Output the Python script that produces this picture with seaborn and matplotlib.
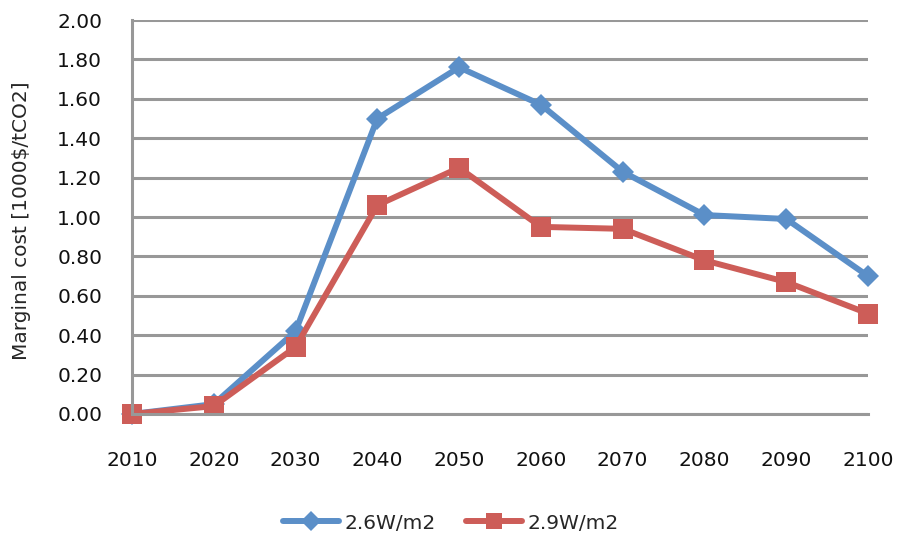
import seaborn as sns
import matplotlib.pyplot as plt
import pandas as pd

years = [2010, 2020, 2030, 2040, 2050, 2060, 2070, 2080, 2090, 2100]
cost_26 = [0.00, 0.05, 0.42, 1.50, 1.76, 1.57, 1.23, 1.01, 0.99, 0.70]
cost_29 = [0.00, 0.04, 0.34, 1.06, 1.25, 0.95, 0.94, 0.78, 0.67, 0.51]
series_names = ["2.6W/m2", "2.9W/m2"]
y_ticks = [0.0, 0.2, 0.4, 0.6, 0.8, 1.0, 1.2, 1.4, 1.6, 1.8, 2.0]

df = pd.DataFrame({
    "year": years * 2,
    "cost": cost_26 + cost_29,
    "scenario": [series_names[0]] * len(years) + [series_names[1]] * len(years),
})

sns.set_style("white")
plt.rcParams['font.family'] = ['DejaVu Sans']

fig = plt.figure(figsize=(9.01, 5.42), dpi=100)
ax = fig.add_axes([0.1465, 0.2362, 0.8169, 0.7268])

grid_col = "#989898"
palette = {series_names[0]: "#5B8FC8", series_names[1]: "#CD5D58"}
markers = {series_names[0]: "D", series_names[1]: "s"}

sns.lineplot(data=df, x="year", y="cost", hue="scenario", style="scenario",
             palette=palette, markers=markers, dashes=False, linewidth=4.3,
             markersize=14, markeredgewidth=0, ax=ax, legend=True)

# diamonds a bit smaller than squares, and let markers spill over the edges
for line in ax.lines:
    line.set_clip_on(False)
    if line.get_marker() == "D":
        line.set_markersize(11.2)

ax.set_xlim(2010, 2100)
ax.set_ylim(0, 2.0)
ax.set_xticks(years)
ax.set_yticks(y_ticks)
ax.set_yticklabels([f"{v:.2f}" for v in y_ticks])
ax.yaxis.grid(True, color=grid_col, linewidth=2.2)
ax.set_axisbelow(True)

for side in ["top", "right"]:
    ax.spines[side].set_visible(False)
for side in ["left", "bottom"]:
    ax.spines[side].set_color(grid_col)
    ax.spines[side].set_linewidth(2.2)

ax.tick_params(axis="both", direction="out", length=6.5, width=2.2, color=grid_col,
               labelsize=14.5, labelcolor="#111111")
ax.tick_params(axis="x", pad=20)
ax.tick_params(axis="y", pad=15)

ax.set_xlabel("")
ax.set_ylabel("Marginal cost [1000$/tCO2]", fontsize=14.5)
ax.yaxis.set_label_coords(-0.137, 0.49)

handles, labels = ax.get_legend_handles_labels()
leg = ax.legend(handles, labels, loc="center", bbox_to_anchor=(0.5, 0.035),
                bbox_transform=fig.transFigure, ncol=2, frameon=False,
                fontsize=14.5, handlelength=2.8, columnspacing=1.5, handletextpad=0.25)
for h in leg.legend_handles:
    h.set_markersize(12 if h.get_marker() == "s" else 10)

plt.savefig("out.png", dpi=100)
